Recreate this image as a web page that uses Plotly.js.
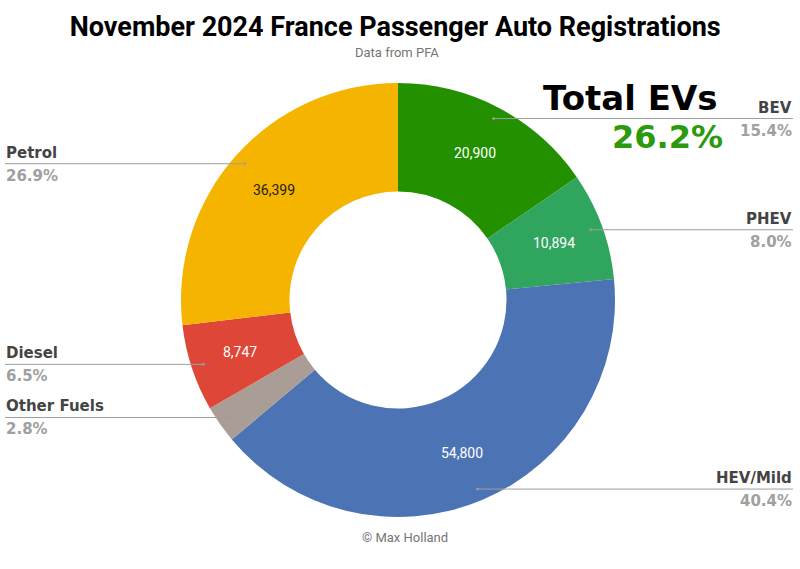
<!DOCTYPE html>
<html>
<head>
<meta charset="utf-8">
<script src="https://cdn.plot.ly/plotly-3.0.1.min.js"></script>
<style>html,body{margin:0;padding:0;background:#fff;}#chart{width:800px;height:569px;}</style>
</head>
<body>
<div id="chart"></div>
<script>
// ---- data ----
const categories = ['BEV', 'PHEV', 'HEV/Mild', 'Other Fuels', 'Diesel', 'Petrol'];
const registrations = [20900, 10894, 54800, 3800, 8747, 36399];
const sliceColors = ['#239000', '#2fa55e', '#4c74b4', '#a99d95', '#de4638', '#f5b400'];
const valueTextColors = ['#ffffff', '#ffffff', '#ffffff', '#ffffff', '#ffffff', '#222222'];
const totalEvLabel = 'Total EVs';
const totalEvShareText = '26.2%';   // as printed on the reference
const titleText = 'November 2024 France Passenger Auto Registrations';
const subtitleText = 'Data from PFA';
const creditText = '\u00a9 Max Holland';

// ---- geometry (layout) ----
const W = 800, H = 569;
const domX = [181 / W, 615 / W];
const domY = [1 - 517 / H, 1 - 83 / H];
const cx = (domX[0] + domX[1]) / 2 * W;
const cy = (1 - (domY[0] + domY[1]) / 2) * H;
const R = Math.min((domX[1] - domX[0]) * W, (domY[1] - domY[0]) * H) / 2;

const total = registrations.reduce((a, b) => a + b, 0);
const shares = registrations.map(v => v / total);
const fmt = v => v.toLocaleString('en-US');

const annotations = [];
const shapes = [];
let cum = 0;
const px = x => x / W;
const py = y => 1 - y / H;

categories.forEach((cat, i) => {
  const a0 = cum * 360;
  cum += shares[i];
  const mid = (a0 + cum * 360) / 2 * Math.PI / 180;
  // dot / leader line
  const dr = 0.945 * R;
  const dx = cx + dr * Math.sin(mid), dy = cy - dr * Math.cos(mid);
  const right = Math.sin(mid) > 0;
  const edge = right ? 793 : 5;
  shapes.push({type: 'line', xref: 'paper', yref: 'paper',
    x0: px(dx), x1: px(edge), y0: py(dy), y1: py(dy),
    line: {color: '#9e9e9e', width: 1}});
  shapes.push({type: 'circle', xref: 'paper', yref: 'paper',
    x0: px(dx - 1.4), x1: px(dx + 1.4), y0: py(dy - 1.4), y1: py(dy + 1.4),
    fillcolor: '#9e9e9e', line: {width: 0}});
  annotations.push({xref: 'paper', yref: 'paper', x: px(edge), y: py(dy - 1),
    xanchor: right ? 'right' : 'left', yanchor: 'bottom', showarrow: false, borderpad: 0,
    text: '<b>' + cat + '</b>', font: {family: 'DejaVu Sans', size: 15, color: '#444444'}});
  annotations.push({xref: 'paper', yref: 'paper', x: px(edge), y: py(dy + 2),
    xanchor: right ? 'right' : 'left', yanchor: 'top', showarrow: false, borderpad: 0,
    text: '<b>' + (shares[i] * 100).toFixed(1) + '%</b>', font: {family: 'DejaVu Sans', size: 15, color: '#a0a0a0'}});
  // value inside slice
  if (shares[i] > 0.04) {
    const vr = 0.765 * R;
    annotations.push({xref: 'paper', yref: 'paper',
      x: px(cx + vr * Math.sin(mid)), y: py(cy - vr * Math.cos(mid)),
      xanchor: 'center', yanchor: 'middle', showarrow: false,
      text: fmt(registrations[i]), font: {family: 'Roboto', size: 14, color: valueTextColors[i]}});
  }
});

annotations.push({xref: 'paper', yref: 'paper', x: px(719), y: py(119), xanchor: 'right', yanchor: 'bottom',
  showarrow: false, borderpad: 0, text: '<b>' + totalEvLabel + '</b>', font: {family: 'DejaVu Sans', size: 34, color: '#000000'}});
annotations.push({xref: 'paper', yref: 'paper', x: px(724), y: py(117), xanchor: 'right', yanchor: 'top',
  showarrow: false, borderpad: 0, text: '<b>' + totalEvShareText + '</b>', font: {family: 'DejaVu Sans', size: 32, color: '#2b9a0c'}});
annotations.push({xref: 'paper', yref: 'paper', x: px(397), y: py(52), xanchor: 'center', yanchor: 'middle',
  showarrow: false, text: subtitleText, font: {family: 'Roboto', size: 13, color: '#757575'}});
annotations.push({xref: 'paper', yref: 'paper', x: px(405), y: py(537), xanchor: 'center', yanchor: 'middle',
  showarrow: false, text: creditText, font: {family: 'Roboto', size: 13, color: '#757575'}});

const trace = {
  type: 'pie',
  labels: categories,
  values: registrations,
  marker: {colors: sliceColors, line: {width: 0}},
  hole: 0.5,
  sort: false,
  direction: 'clockwise',
  rotation: 0,
  textinfo: 'none',
  hoverinfo: 'label+value+percent',
  domain: {x: domX, y: domY},
  showlegend: false
};

const layout = {
  width: W, height: H,
  margin: {l: 0, r: 0, t: 0, b: 0},
  paper_bgcolor: '#ffffff',
  title: {text: '<b>' + titleText + '</b>', x: 0.494, xanchor: 'center', y: 1 - 27 / H, yanchor: 'middle',
    yref: 'container', font: {family: 'Roboto', size: 27, color: '#000000'}},
  showlegend: false,
  annotations: annotations,
  shapes: shapes
};

Plotly.newPlot('chart', [trace], layout, {displayModeBar: false, staticPlot: true});
</script>
</body>
</html>
